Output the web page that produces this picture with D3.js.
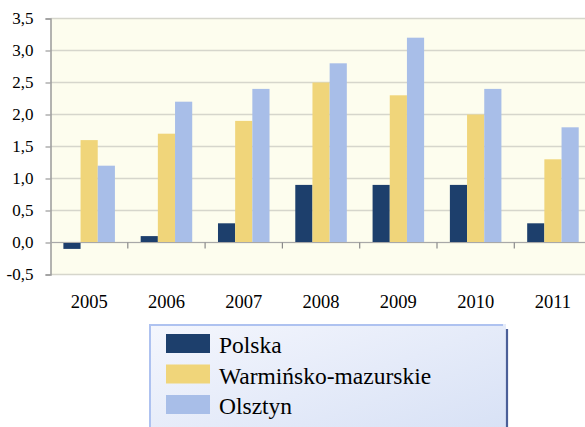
<!DOCTYPE html>
<meta charset="utf-8">
<head>
  <title>Wykres słupkowy</title>
</head>
<style>
body { margin: 0; background: #fff; }
svg { display: block; font-family: "Liberation Serif", "Times New Roman", serif; }
</style>
<body>
<script src="https://d3js.org/d3.v7.min.js"></script>
<script>

var years = ["2005", "2006", "2007", "2008", "2009", "2010", "2011"];
var seriesNames = ["Polska", "Warmińsko-mazurskie", "Olsztyn"];
var polska = [-0.1, 0.1, 0.3, 0.9, 0.9, 0.9, 0.3];
var warminsko = [1.6, 1.7, 1.9, 2.5, 2.3, 2.0, 1.3];
var olsztyn = [1.2, 2.2, 2.4, 2.8, 3.2, 2.4, 1.8];
var yTicks = [-0.5, 0, 0.5, 1, 1.5, 2, 2.5, 3, 3.5];
var colors = ["#1d3f6c", "#f0d57a", "#a8bee8"];

var width = 585, height = 427;
var svg = d3.select("body").append("svg")
    .attr("width", width)
    .attr("height", height);

// obszar wykresu
var plotLeft = 50.5, step = 77.3, plotTop = 18.5, plotBottom = 274.5;

var x = d3.scaleBand()
    .domain(years)
    .range([plotLeft, plotLeft + step * years.length])
    .padding(0);

var xInner = d3.scaleBand()
    .domain(seriesNames)
    .range([x.bandwidth() / 6, x.bandwidth() * 5 / 6])
    .padding(0);

var y = d3.scaleLinear()
    .domain([-0.5, 3.5])
    .range([plotBottom, plotTop]);

var fmt = function(d) { return d3.format(".1f")(d).replace(".", ",").replace("−", "-"); };

// tło
svg.append("rect")
    .attr("x", plotLeft)
    .attr("y", plotTop)
    .attr("width", width - plotLeft + 20)
    .attr("height", plotBottom - plotTop)
    .attr("fill", "#fdfdee");

// linie siatki
svg.append("g").selectAll("line")
    .data(yTicks)
    .enter().append("line")
    .attr("x1", plotLeft)
    .attr("x2", width + 10)
    .attr("y1", function(d) { return y(d); })
    .attr("y2", function(d) { return y(d); })
    .attr("stroke", "#d6d6cc")
    .attr("stroke-width", 1.5);

// słupki
var data = [polska, warminsko, olsztyn];
var groups = svg.append("g").selectAll("g")
    .data(data)
    .enter().append("g")
    .attr("fill", function(d, i) { return colors[i]; });

groups.each(function(vals, s) {
  d3.select(this).selectAll("rect")
    .data(vals)
    .enter().append("rect")
    .attr("x", function(d, i) { return x(years[i]) + xInner(seriesNames[s]); })
    .attr("width", xInner.bandwidth())
    .attr("y", function(d) { return y(Math.max(0, d)); })
    .attr("height", function(d) { return Math.abs(y(d) - y(0)); });
});

// oś Y
var yAxis = d3.axisLeft(y)
    .tickValues(yTicks)
    .tickFormat(fmt)
    .tickSize(5)
    .tickPadding(12);

var gy = svg.append("g")
    .attr("transform", "translate(" + plotLeft + ",0)")
    .call(yAxis);
gy.select(".domain").attr("stroke", "#9a9a9a").attr("stroke-width", 1.5);
gy.selectAll(".tick line").attr("stroke", "#9a9a9a").attr("stroke-width", 1.2);
gy.selectAll(".tick text")
    .attr("fill", "#000")
    .style("font-size", "17px")
    .style("font-family", "'Liberation Serif', serif");

// oś X (na poziomie zera)
svg.append("line")
    .attr("x1", plotLeft)
    .attr("x2", width + 10)
    .attr("y1", y(0))
    .attr("y2", y(0))
    .attr("stroke", "#a8a8a8")
    .attr("stroke-width", 1.2);

svg.append("g").selectAll("line")
    .data(years.slice(1))
    .enter().append("line")
    .attr("x1", function(d) { return x(d); })
    .attr("x2", function(d) { return x(d); })
    .attr("y1", y(0))
    .attr("y2", y(0) + 6)
    .attr("stroke", "#8a8a8a")
    .attr("stroke-width", 1.2);

svg.append("g").selectAll("text")
    .data(years)
    .enter().append("text")
    .attr("x", function(d) { return x(d) + x.bandwidth() / 2; })
    .attr("y", 308)
    .attr("text-anchor", "middle")
    .style("font-size", "18.5px")
    .text(function(d) { return d; });

// legenda
var defs = svg.append("defs");
var grad = defs.append("linearGradient")
    .attr("id", "legGrad")
    .attr("x1", "0").attr("y1", "0")
    .attr("x2", "1").attr("y2", "1");
grad.append("stop").attr("offset", "0").attr("stop-color", "#f4f6fd");
grad.append("stop").attr("offset", "1").attr("stop-color", "#d6e0f5");

var legend = svg.append("g");
legend.append("rect")
    .attr("x", 149)
    .attr("y", 324)
    .attr("width", 357)
    .attr("height", 120)
    .attr("fill", "url(#legGrad)");
legend.append("line")
    .attr("x1", 149).attr("x2", 503)
    .attr("y1", 325).attr("y2", 325)
    .attr("stroke", "#aec2f0").attr("stroke-width", 2);
legend.append("line")
    .attr("x1", 150).attr("x2", 150)
    .attr("y1", 324).attr("y2", 430)
    .attr("stroke", "#aec2f0").attr("stroke-width", 2);
legend.append("line")
    .attr("x1", 507).attr("x2", 507)
    .attr("y1", 329).attr("y2", 430)
    .attr("stroke", "#4b5f98").attr("stroke-width", 2.2);

var items = legend.selectAll(".item")
    .data(seriesNames)
    .enter().append("g")
    .attr("transform", function(d, i) { return "translate(0," + (i * 30.5) + ")"; });

items.append("rect")
    .attr("x", 166)
    .attr("y", 334)
    .attr("width", 44)
    .attr("height", 19)
    .attr("fill", function(d, i) { return colors[i]; });

items.append("text")
    .attr("x", 219)
    .attr("y", 353)
    .style("font-size", "23.5px")
    .attr("fill", "#000")
    .text(function(d) { return d; });

</script>
</body>
